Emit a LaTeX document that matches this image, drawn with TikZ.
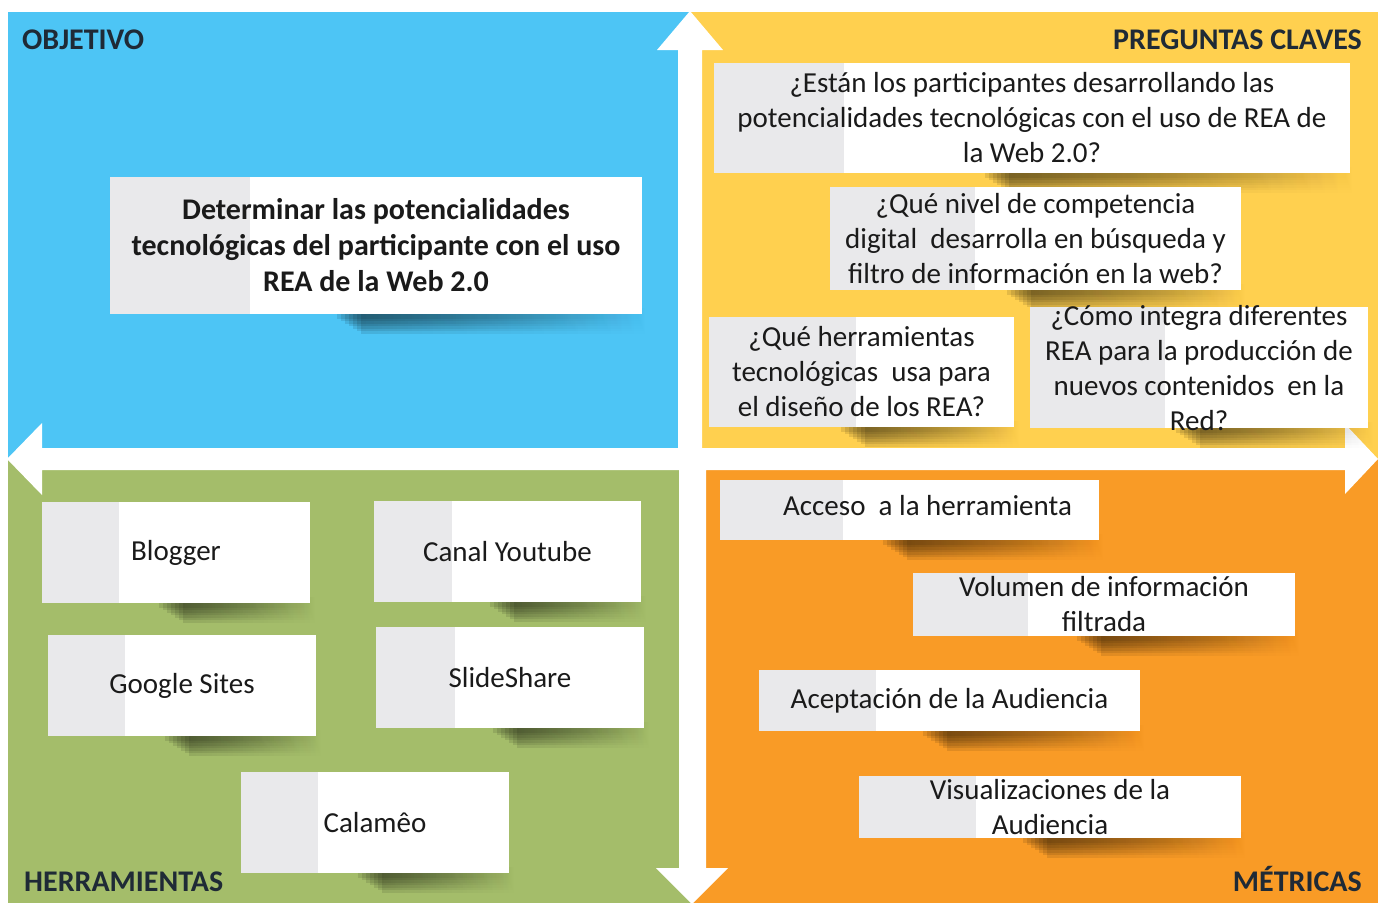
\documentclass[tikz,border=0pt]{standalone}
\usepackage{fontspec}
\setmainfont{Carlito}
\usetikzlibrary{fadings}
\definecolor{qblue}{HTML}{4DC5F5}
\definecolor{qyellow}{HTML}{FFD04F}
\definecolor{qgreen}{HTML}{A4BD6A}
\definecolor{qorange}{HTML}{F99B26}
\definecolor{stripgray}{HTML}{E9E9EB}
\definecolor{labelc}{HTML}{1F2A36}
\definecolor{txtc}{HTML}{1A1A1A}
\tikzset{
  cardbox/.style={fill=white, inner sep=0pt, outer sep=0pt, draw=none},
  cardtext/.style={text=txtc, align=center, inner sep=0pt, font=\fontsize{29}{35}\selectfont},
  objtext/.style={text=txtc, align=center, inner sep=0pt, font=\fontsize{30}{36}\selectfont\bfseries},
  quadlabel/.style={text=labelc, inner sep=0pt, font=\fontsize{30}{34}\selectfont\bfseries},
}
\newcommand\mycard[6]{%
  \foreach \i in {1,...,7}{%
    \fill[black, opacity=0.1, path fading=east]
      ({#2+0.42*(#4-#2)+\i*4}, {#5-6}) rectangle ({#4+\i*1.0}, {#5+2.5*\i+2});
  }
  \node[cardbox, minimum width={(#4-#2)*1pt}, minimum height={(#5-#3)*1pt}] (#1) at ({(#2+#4)/2},{(#3+#5)/2}) {};
  \fill[stripgray] (#1.north west) rectangle ([xshift=#6pt]#1.south west);
}
\begin{document}
\begin{tikzpicture}[x=1pt,y=-1pt]
\useasboundingbox (0,0) rectangle (1379,903);
\fill[white] (0,0) rectangle (1379,903);
% quadrants
\fill[qblue]   (8,12)    rectangle (691,459);
\fill[qyellow] (691,12)  rectangle (1378,459);
\fill[qgreen]  (8,459)   rectangle (691,903);
\fill[qorange] (691,459) rectangle (1378,903);
% white cross of arrows
\fill[white] (690,11) -- (723,50) -- (702,50) -- (702,448) -- (1345,448) -- (1345,424) -- (1378,459)
  -- (1345,494) -- (1345,470) -- (706,470) -- (706,868) -- (728,868) -- (692,904) -- (656,868)
  -- (679,868) -- (679,470) -- (42,470) -- (42,495) -- (7,459) -- (42,423) -- (42,448)
  -- (678,448) -- (678,50) -- (657,50) -- cycle;
% labels
\node[quadlabel, anchor=base west] (lobj) at (22,49) {OBJETIVO};
\node[quadlabel, anchor=base east] (lpre) at (1362,49) {PREGUNTAS CLAVES};
\node[quadlabel, anchor=base west] (lher) at (24,891) {HERRAMIENTAS};
\node[quadlabel, anchor=base east] (lmet) at (1362,891) {MÉTRICAS};
% objective
\mycard{obj}{110}{177}{642}{314}{140}
\node[objtext] (tobj) at (obj) {Determinar las potencialidades\\tecnológicas del participante con el uso\\REA de la Web 2.0};
% preguntas
\mycard{p1}{714}{63}{1350}{173}{130}
\node[cardtext] (tp1) at (p1) {¿Están los participantes desarrollando las\\potencialidades tecnológicas con el uso de REA de\\la Web 2.0?};
\mycard{p2}{830}{187}{1241}{290}{145}
\node[cardtext] (tp2) at (p2) {¿Qué nivel de competencia\\digital\ \ desarrolla en búsqueda y\\filtro de información en la web?};
\mycard{p3}{709}{317}{1014}{427}{147}
\node[cardtext] (tp3) at (p3) {¿Qué herramientas\\tecnológicas\ \ usa para\\el diseño de los REA?};
\mycard{p4}{1030}{307}{1368}{428}{135}
\node[cardtext] (tp4) at ([yshift=-1pt]p4) {¿Cómo integra diferentes\\REA para la producción de\\nuevos contenidos\ \ en la\\Red?};
% metricas
\mycard{m1}{720}{480}{1099}{540}{123}
\node[cardtext] (tm1) at ([xshift=18pt,yshift=4pt]m1) {Acceso\ \ a la herramienta};
\mycard{m2}{913}{573}{1295}{636}{115}
\node[cardtext] (tm2) at (m2) {Volumen de información\\filtrada};
\mycard{m3}{759}{670}{1140}{731}{117}
\node[cardtext] (tm3) at (m3) {Aceptación de la Audiencia};
\mycard{m4}{859}{776}{1241}{838}{117}
\node[cardtext] (tm4) at (m4) {Visualizaciones de la\\Audiencia};
% herramientas
\mycard{h1}{42}{502}{310}{603}{77}
\node[cardtext] (th1) at (h1) {Blogger};
\mycard{h2}{374}{501}{641}{602}{78}
\node[cardtext] (th2) at (h2) {Canal Youtube};
\mycard{h3}{48}{635}{316}{736}{77}
\node[cardtext] (th3) at (h3) {Google Sites};
\mycard{h4}{376}{627}{644}{728}{79}
\node[cardtext] (th4) at (h4) {SlideShare};
\mycard{h5}{241}{772}{509}{873}{77}
\node[cardtext] (th5) at (h5) {Calamêo};
\end{tikzpicture}
\end{document}
